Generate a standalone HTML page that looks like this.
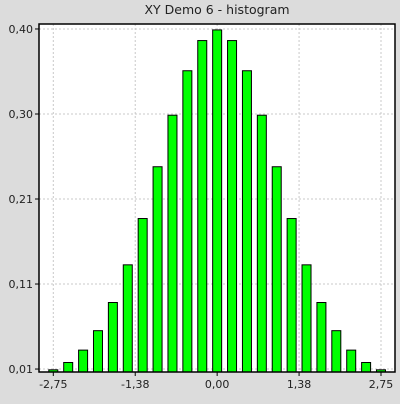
<!DOCTYPE html>
<html><head><meta charset="utf-8"><style>
body{margin:0;background:#dcdcdc;font-family:"DejaVu Sans","Liberation Sans",sans-serif}
</style></head><body>
<svg width="400" height="400" xmlns="http://www.w3.org/2000/svg">
<rect width="400" height="400" fill="#dcdcdc"/>
<text x="217" y="14" text-anchor="middle" font-size="12.5" fill="#222">XY Demo 6 - histogram</text>
<rect x="39" y="24" width="356" height="348" fill="#fff"/>
<g id="grid"></g><g id="bars"></g>
<rect x="39" y="24" width="356" height="348" fill="none" stroke="#000" stroke-width="1.5"/>
<g id="axes"></g>
</svg>
<script>
const xs=[-2.75,-2.5,-2.25,-2,-1.75,-1.5,-1.25,-1,-0.75,-0.5,-0.25,0,0.25,0.5,0.75,1,1.25,1.5,1.75,2,2.25,2.5,2.75];
const vals=[0.0091,0.0175,0.0317,0.054,0.0863,0.1295,0.1826,0.242,0.3011,0.3521,0.3867,0.3989,0.3867,0.3521,0.3011,0.242,0.1826,0.1295,0.0863,0.054,0.0317,0.0175,0.0091];
const xTicks=[-2.75,-1.375,0,1.375,2.75];
const xTickLabels=["-2,75","-1,38","0,00","1,38","2,75"];
const yTicks=[0.01,0.1075,0.205,0.3025,0.40];
const yTickLabels=["0,01","0,11","0,21","0,30","0,40"];
const NS="http://www.w3.org/2000/svg";
const L=39,R=395,T=24,B=372;
const xMin=-2.99,xMax=2.985,yMin=0.0066,yMax=0.4057;
const X=v=>L+(v-xMin)/(xMax-xMin)*(R-L);
const Y=v=>B-(v-yMin)/(yMax-yMin)*(B-T);
function mk(t,a,p){const e=document.createElementNS(NS,t);for(const k in a)e.setAttribute(k,a[k]);p.appendChild(e);return e;}
const grid=document.getElementById('grid'),bars=document.getElementById('bars'),axes=document.getElementById('axes');
xTicks.forEach((v,i)=>{const x=X(v);
 const g=mk('line',{x1:x,x2:x,y1:T,y2:B,stroke:'#c8c8c8','stroke-dasharray':'2,2'},grid);
 
 
 const t=mk('line',{x1:x,x2:x,y1:B,y2:B+4,stroke:'#000'},axes);
 
 
 const l=mk('text',{x:x,y:B+16,'text-anchor':'middle','font-size':'11',fill:'#222'},axes);l.textContent=xTickLabels[i];
 
 
});
yTicks.forEach((v,i)=>{const y=Y(v);
 const g=mk('line',{x1:L,x2:R,y1:y,y2:y,stroke:'#c8c8c8','stroke-dasharray':'2,2'},grid);
 
 
 const t=mk('line',{x1:L-4,x2:L,y1:y,y2:y,stroke:'#000'},axes);
 
 
 const l=mk('text',{x:L-6,y:y+4,'text-anchor':'end','font-size':'11',fill:'#222'},axes);l.textContent=yTickLabels[i];
 
 
});
xs.forEach((v,i)=>{const x=X(v),y=Y(vals[i]);
 const b=mk('rect',{x:x-4.5,y:y,width:9,height:B-y,fill:'#00ff00',stroke:'#000','stroke-width':1},bars);
 
 
});
</script>
</body></html>
